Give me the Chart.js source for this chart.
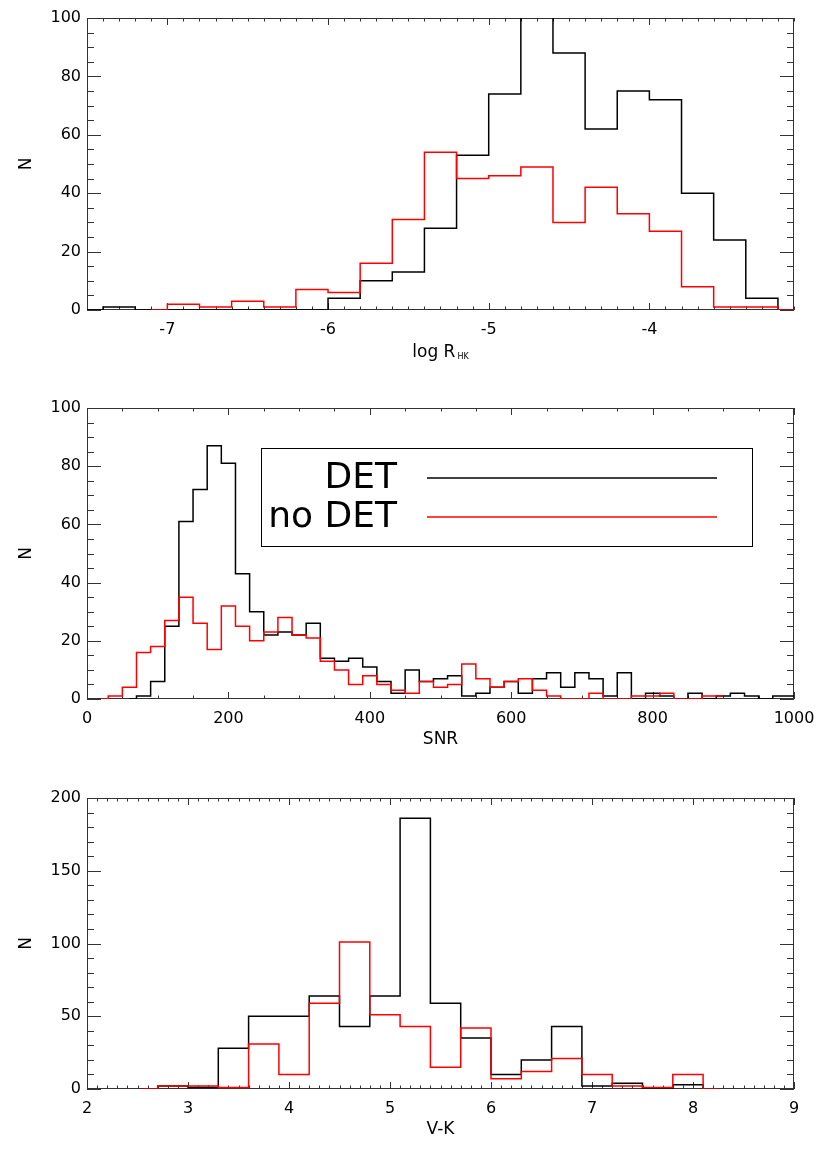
<!DOCTYPE html>
<html>
<head>
<meta charset="utf-8">
<title>DET / no DET histograms</title>
<script src="https://cdn.jsdelivr.net/npm/chart.js@4.4.1/dist/chart.umd.min.js"></script>
<style>
  html, body { margin: 0; padding: 0; background: #fff; overflow: hidden; }
  body { width: 830px; height: 1154px; position: relative; }
  canvas { position: absolute; left: 0; }
  #rhkChart { top: 0; }
  #snrChart { top: 390px; }
  #vkChart { top: 780px; }
</style>
</head>
<body>
<canvas id="rhkChart" width="830" height="380"></canvas>
<canvas id="snrChart" width="830" height="380"></canvas>
<canvas id="vkChart" width="830" height="380"></canvas>
<script>
// Series
const seriesLabels = ['DET', 'no DET'];
const seriesColors = ['#000000', '#ff0000'];

// log R'HK histogram: bin centres and counts
const rhkBinsDet = [-7.5, -7.3, -7.1, -6.9, -6.7, -6.5, -6.3, -6.1, -5.9, -5.7, -5.5, -5.3,
                    -5.1, -4.9, -4.7, -4.5, -4.3, -4.1, -3.9, -3.7, -3.5, -3.3, -3.1];
const rhkDet = [0, 1, 0, 0, 0, 0, 0, 0, 4, 10, 13, 28, 53, 74, 120, 88, 62, 75, 72, 40, 24, 4, 0];
const rhkBinsNoDet = [-7.1, -6.9, -6.7, -6.5, -6.3, -6.1, -5.9, -5.7, -5.5, -5.3, -5.1,
                      -4.9, -4.7, -4.5, -4.3, -4.1, -3.9, -3.7, -3.5, -3.3, -3.1];
const rhkNoDet = [0, 2, 1, 3, 1, 7, 6, 16, 31, 54, 45, 46, 49, 30, 42, 33, 27, 8, 1, 1, 0];
const rhkTicks = [-7, -6, -5, -4];

// SNR histogram (null = outside the plotted range of that sample)
const snrBins = [20, 40, 60, 80, 100, 120, 140, 160, 180, 200, 220, 240, 260, 280, 300, 320, 340,
                 360, 380, 400, 420, 440, 460, 480, 500, 520, 540, 560, 580, 600, 620, 640, 660,
                 680, 700, 720, 740, 760, 780, 800, 820, 840, 860, 880, 900, 920, 940, 960, 980, 1000];
const snrDet = [null, null, 0, 1, 6, 25, 61, 72, 87, 81, 43, 30, 22, 23, 22, 26, 14, 13, 14, 11,
                6, 2, 10, 6, 7, 8, 1, 2, 4, 6, 2, 7, 9, 4, 9, 7, 1, 9, 0, 2, 1, 0, 2, 0, 1, 2, 1, 0, 1, 1];
const snrNoDet = [0, 1, 4, 16, 18, 27, 35, 26, 17, 32, 25, 20, 23, 28, 22, 21, 13, 10, 5, 8,
                  5, 3, 2, 6, 4, 5, 12, 7, 4, 6, 7, 3, 1, 0, 0, 2, 0, 0, 1, 1, 2, 0, 0, 1, 1,
                  null, null, null, null, null];

// V-K histogram
const vkBins = [2.55, 2.85, 3.15, 3.45, 3.75, 4.05, 4.35, 4.65, 4.95, 5.25, 5.55, 5.85,
                6.15, 6.45, 6.75, 7.05, 7.35, 7.65, 7.95, 8.25];
const vkDet = [0, 2, 1, 28, 50, 50, 64, 43, 64, 186, 59, 35, 10, 20, 43, 2, 4, 0, 3, 0];
const vkNoDet = [0, 2, 2, 1, 31, 10, 59, 101, 51, 43, 15, 42, 7, 12, 21, 10, 2, 1, 10, 0];

Chart.defaults.font.family = '"DejaVu Sans", sans-serif';
Chart.defaults.color = '#000';

function toPoints(xs, ys) {
    return xs.map((x, i) => ({ x: x, y: ys[i] }));
}

function histDataset(i, xs, ys) {
    return {
        label: seriesLabels[i],
        data: toPoints(xs, ys),
        borderColor: seriesColors[i],
        borderWidth: 1.5,
        stepped: 'middle',
        pointRadius: 0,
        fill: false,
        order: 2 - i // red goes on top of black
    };
}

// IDL-like box with inward ticks on all four sides
const frameTicks = {
    id: 'frameTicks',
    beforeDatasetsDraw(chart, args, opts) {
        const { ctx, chartArea: a } = chart;
        const xs = chart.scales.x, ys = chart.scales.y;
        const px = v => Math.round(xs.getPixelForValue(v)) + 0.5;
        const py = v => Math.round(ys.getPixelForValue(v)) + 0.5;
        const isMajor = (list, v) => list.some(t => Math.abs(t.value - v) < 1e-6);
        ctx.save();
        ctx.strokeStyle = '#333';
        ctx.lineWidth = 1;
        ctx.beginPath();
        for (let k = Math.ceil(xs.min / opts.xMinor - 1e-6); k <= Math.floor(xs.max / opts.xMinor + 1e-6); k++) {
            const v = k * opts.xMinor;
            const len = isMajor(xs.ticks, v) ? 7 : 3.5;
            const p = px(v);
            ctx.moveTo(p, a.bottom); ctx.lineTo(p, a.bottom - len);
            ctx.moveTo(p, a.top); ctx.lineTo(p, a.top + len);
        }
        for (let k = Math.ceil(ys.min / opts.yMinor - 1e-6); k <= Math.floor(ys.max / opts.yMinor + 1e-6); k++) {
            const v = k * opts.yMinor;
            const len = isMajor(ys.ticks, v) ? 14 : 7;
            const p = py(v);
            ctx.moveTo(a.left, p); ctx.lineTo(a.left + len, p);
            ctx.moveTo(a.right, p); ctx.lineTo(a.right - len, p);
        }
        ctx.stroke();
        ctx.strokeRect(a.left + 0.5, a.top + 0.5, a.right - a.left - 1, a.bottom - a.top - 1);
        ctx.restore();
    }
};

// boxed legend inside the SNR panel: label on the left, long line sample on the right
const boxLegend = {
    id: 'boxLegend',
    afterDatasetsDraw(chart, args, opts) {
        if (!opts.display) return;
        const { ctx, chartArea: a } = chart;
        const L = Math.round(a.left + opts.left), T = Math.round(a.top + opts.top);
        ctx.save();
        ctx.strokeStyle = '#000';
        ctx.lineWidth = 1;
        ctx.strokeRect(L + 0.5, T + 0.5, opts.width, opts.height);
        ctx.font = '36px "DejaVu Sans"';
        ctx.textAlign = 'right';
        ctx.textBaseline = 'alphabetic';
        chart.data.datasets.forEach((ds, i) => {
            const yb = T + opts.firstBaseline + i * opts.rowGap;
            ctx.fillStyle = '#000';
            ctx.fillText(ds.label, L + opts.textRight, yb);
            const yl = Math.round(yb - opts.lineRaise);
            ctx.strokeStyle = ds.borderColor;
            ctx.lineWidth = 1.6;
            ctx.beginPath();
            ctx.moveTo(L + opts.lineStart, yl);
            ctx.lineTo(L + opts.lineEnd, yl);
            ctx.stroke();
        });
        ctx.restore();
    }
};

// x title with a subscript (log R_HK)
const subTitle = {
    id: 'subTitle',
    afterDraw(chart, args, opts) {
        if (!opts.display) return;
        const { ctx, chartArea: a } = chart;
        ctx.save();
        ctx.fillStyle = '#000';
        ctx.textBaseline = 'alphabetic';
        ctx.textAlign = 'left';
        ctx.font = '17px "DejaVu Sans"';
        const w1 = ctx.measureText(opts.text).width;
        ctx.font = '8px "DejaVu Sans"';
        const w2 = ctx.measureText(opts.sub).width;
        const x0 = (a.left + a.right) / 2 - (w1 + 2 + w2) / 2;
        const yb = a.bottom + 47;
        ctx.font = '17px "DejaVu Sans"';
        ctx.fillText(opts.text, x0, yb);
        ctx.font = '8px "DejaVu Sans"';
        ctx.fillText(opts.sub, x0 + w1 + 2, yb + 2);
        ctx.restore();
    }
};

function makePanel(id, cfg) {
    return new Chart(document.getElementById(id), {
        type: 'line',
        data: {
            datasets: [
                histDataset(0, cfg.binsDet, cfg.det),
                histDataset(1, cfg.binsNoDet, cfg.noDet)
            ]
        },
        plugins: [frameTicks, boxLegend, subTitle],
        options: {
            responsive: false,
            animation: false,
            events: [],
            layout: { padding: { top: 18, right: 36, left: 0, bottom: 0 } },
            plugins: {
                legend: { display: false },
                tooltip: { enabled: false },
                frameTicks: { xMinor: cfg.xMinor, yMinor: cfg.yMinor },
                boxLegend: cfg.legend || { display: false },
                subTitle: cfg.subTitle || { display: false }
            },
            scales: {
                x: {
                    type: 'linear',
                    min: cfg.xMin,
                    max: cfg.xMax,
                    grid: { display: false, drawTicks: false },
                    border: { display: false },
                    ticks: {
                        stepSize: cfg.xStep,
                        padding: 10,
                        maxRotation: 0,
                        autoSkip: false,
                        font: { size: 16 },
                        callback: v => String(v)
                    },
                    title: cfg.xTitle
                        ? { display: true, text: cfg.xTitle, font: { size: 17 }, padding: { top: 0, bottom: 20 } }
                        : { display: false },
                    afterBuildTicks: cfg.xTicks ? (s => { s.ticks = cfg.xTicks.map(v => ({ value: v })); }) : undefined,
                    afterFit: s => { s.height = cfg.xAxisHeight; }
                },
                y: {
                    min: 0,
                    max: cfg.yMax,
                    grid: { display: false, drawTicks: false },
                    border: { display: false },
                    ticks: { stepSize: cfg.yStep, padding: 6, font: { size: 16 }, callback: v => String(v) },
                    title: { display: true, text: 'N', font: { size: 17 }, padding: { top: 16, bottom: 0 } },
                    afterFit: s => { s.width = 87; }
                }
            }
        }
    });
}

makePanel('rhkChart', {
    binsDet: rhkBinsDet, det: rhkDet, binsNoDet: rhkBinsNoDet, noDet: rhkNoDet,
    xMin: -7.5, xMax: -3.1, xTicks: rhkTicks, xMinor: 0.1,
    yMax: 100, yStep: 20, yMinor: 5,
    xAxisHeight: 70,
    subTitle: { display: true, text: 'log R', sub: 'HK' }
});

makePanel('snrChart', {
    binsDet: snrBins, det: snrDet, binsNoDet: snrBins, noDet: snrNoDet,
    xMin: 0, xMax: 1000, xStep: 200, xMinor: 50,
    yMax: 100, yStep: 20, yMinor: 5,
    xAxisHeight: 71, xTitle: 'SNR',
    legend: {
        display: true, left: 174, top: 40, width: 491, height: 98,
        textRight: 136, firstBaseline: 40, rowGap: 38.7,
        lineStart: 166, lineEnd: 456, lineRaise: 10
    }
});

makePanel('vkChart', {
    binsDet: vkBins, det: vkDet, binsNoDet: vkBins, noDet: vkNoDet,
    xMin: 2, xMax: 9, xStep: 1, xMinor: 0.1,
    yMax: 200, yStep: 50, yMinor: 10,
    xAxisHeight: 71, xTitle: 'V-K'
});
</script>
</body>
</html>
